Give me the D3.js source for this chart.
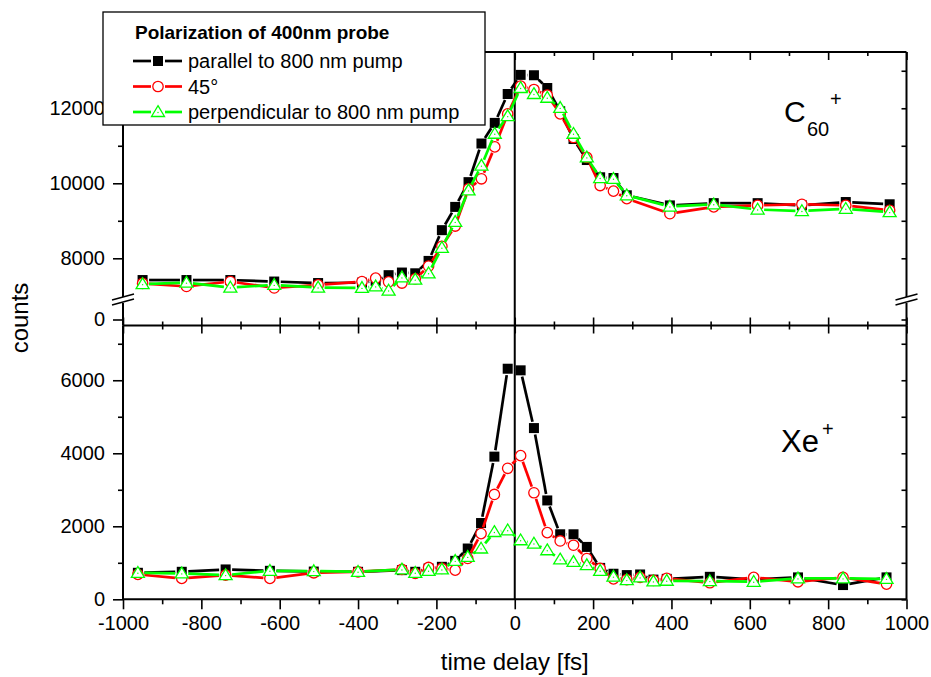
<!DOCTYPE html>
<html>
<head>
<meta charset="utf-8">
<script src="https://cdn.jsdelivr.net/npm/d3@7"></script>
<style>
body { margin: 0; background: #fff; }
svg text { font-family: Arial, "Liberation Sans", sans-serif; fill: #000; }
</style>
</head>
<body>
<div id="chart"></div>
<script>
// time axis (fs) of the two panels
var tC60 = [-950, -838, -726, -614, -502, -390, -355, -322, -288, -254, -220, -186, -152, -118, -85, -51,
            -18, 15, 49, 83, 116, 150, 184, 218, 252, 286, 396, 508, 620, 733, 845, 957];
var tXe = [-962, -850, -738, -625, -513, -400, -288, -254, -220, -186, -152, -120, -86, -52, -18, 15,
           49, 83, 116, 150, 184, 218, 252, 286, 320, 354, 388, 498, 610, 723, 838, 949];

// C60+ counts
var c60Parallel = [7420, 7420, 7420, 7380, 7340, 7350, 7400, 7550, 7620, 7600, 7930, 8750, 9370, 10030, 11060, 11610,
                   12380, 12890, 12880, 12540, 11920, 11180, 10620, 10160, 10140, 9680, 9410, 9470, 9470, 9410, 9500, 9440];
var c60Deg45 = [7330, 7250, 7380, 7210, 7290, 7380, 7470, 7370, 7340, 7450, 7790, 8320, 8860, 9850, 10120, 10970,
                11850, 12590, 12500, 12350, 11850, 11220, 10690, 9940, 9790, 9590, 9190, 9370, 9410, 9440, 9410, 9280];
var c60Perp = [7310, 7350, 7220, 7290, 7220, 7210, 7250, 7140, 7490, 7430, 7600, 8280, 8970, 9810, 10470, 11320,
               11790, 12540, 12380, 12280, 12010, 11320, 10690, 10140, 10120, 9680, 9380, 9440, 9300, 9260, 9320, 9230];

// Xe+ counts
var xeParallel = [726, 753, 818, 780, 760, 753, 799, 753, 845, 890, 1053, 1391, 2089, 3908, 6316, 6272,
                  4690, 2708, 1781, 1781, 1435, 860, 700, 663, 680, 540, 560, 616, 540, 600, 390, 600];
var xeDeg45 = [682, 573, 663, 573, 726, 753, 818, 709, 873, 845, 799, 1118, 1800, 2872, 3589, 3935,
               2918, 1827, 1598, 1481, 1118, 845, 560, 540, 600, 520, 573, 453, 600, 480, 600, 417];
var xePerp = [726, 709, 663, 780, 772, 753, 818, 726, 780, 818, 1053, 1162, 1391, 1844, 1890, 1617,
              1527, 1344, 1091, 1026, 935, 780, 620, 526, 600, 490, 508, 499, 480, 573, 573, 560];

var legendTitle = "Polarization of 400nm probe";
var seriesNames = ["parallel to 800 nm pump", "45\u00b0", "perpendicular to 800 nm pump"];
var seriesColors = ["#000000", "#ff0000", "#00ff00"];
var seriesShapes = ["square", "circle", "triangle"];

var xTicksMajor = [-1000, -800, -600, -400, -200, 0, 200, 400, 600, 800, 1000];
var xTicksMinor = [-900, -700, -500, -300, -100, 100, 300, 500, 700, 900];
var c60TicksMajor = [8000, 10000, 12000];
var c60TicksMinor = [9000, 11000, 13000];
var xeTicksMajor = [0, 2000, 4000, 6000];
var xeTicksMinor = [1000, 3000, 5000, 7000];

var width = 931;
var height = 677;
var pL = 123, pR = 906.5, pT = 52, pM = 325.5, pB = 599.3;

var svg = d3.select("#chart")
            .append("svg")
            .attr("width", width)
            .attr("height", height);

var x = d3.scaleLinear().domain([-1000, 1000]).range([pL, pR]);
var yC60 = d3.scaleLinear().domain([7000, 13500]).range([295.8, pT]);
var yC60Low = d3.scaleLinear().domain([0, 500]).range([319.5, 300.8]);
var yXe = d3.scaleLinear().domain([0, 7500]).range([pB, pM]);

var plain = function(d) { return String(d); };

function strip(g) {
	g.select(".domain").remove();
	g.selectAll("line").attr("stroke", "#000").attr("stroke-width", 1.6);
	g.selectAll("text").attr("font-family", "Arial, 'Liberation Sans', sans-serif").attr("font-size", 20).attr("fill", "#000");
	return g;
}

function addAxis(axis, tx, ty) {
	var g = svg.append("g").attr("transform", "translate(" + tx + "," + ty + ")").call(axis);
	return strip(g);
}

// ---- x axes ----
addAxis(d3.axisBottom(x).tickValues(xTicksMajor).tickSize(10).tickPadding(7).tickFormat(plain), 0, pB);
addAxis(d3.axisBottom(x).tickValues(xTicksMinor).tickSize(5).tickFormat(""), 0, pB);
// inner ticks on shared middle line and on top
addAxis(d3.axisBottom(x).tickValues(xTicksMajor).tickSize(8).tickFormat(""), 0, pM);
addAxis(d3.axisBottom(x).tickValues(xTicksMinor).tickSize(4).tickFormat(""), 0, pM);
addAxis(d3.axisTop(x).tickValues(xTicksMajor).tickSize(8).tickFormat(""), 0, pM);
addAxis(d3.axisTop(x).tickValues(xTicksMinor).tickSize(4).tickFormat(""), 0, pM);
addAxis(d3.axisBottom(x).tickValues(xTicksMajor).tickSize(8).tickFormat(""), 0, pT);
addAxis(d3.axisBottom(x).tickValues(xTicksMinor).tickSize(4).tickFormat(""), 0, pT);

// ---- y axes, lower panel ----
addAxis(d3.axisLeft(yXe).tickValues(xeTicksMajor).tickSize(10).tickPadding(8).tickFormat(plain), pL, 0);
addAxis(d3.axisLeft(yXe).tickValues(xeTicksMinor).tickSize(5).tickFormat(""), pL, 0);
addAxis(d3.axisLeft(yXe).tickValues(xeTicksMajor.concat(xeTicksMinor)).tickSize(5).tickFormat(""), pR, 0);

// ---- y axes, upper panel ----
addAxis(d3.axisLeft(yC60).tickValues(c60TicksMajor).tickSize(10).tickPadding(8).tickFormat(plain), pL, 0);
addAxis(d3.axisLeft(yC60).tickValues(c60TicksMinor).tickSize(5).tickFormat(""), pL, 0);
addAxis(d3.axisLeft(yC60Low).tickValues([0]).tickSize(10).tickPadding(8).tickFormat(plain), pL, 0);
addAxis(d3.axisLeft(yC60).tickValues(c60TicksMajor.concat(c60TicksMinor)).tickSize(5).tickFormat(""), pR, 0);
addAxis(d3.axisLeft(yC60Low).tickValues([0]).tickSize(5).tickFormat(""), pR, 0);

// ---- frame ----
var frame = svg.append("g").attr("stroke", "#000").attr("stroke-width", 2).attr("fill", "none");
frame.append("line").attr("x1", pL).attr("x2", pR).attr("y1", pT).attr("y2", pT);
frame.append("line").attr("x1", pL).attr("x2", pR).attr("y1", pM).attr("y2", pM);
frame.append("line").attr("x1", pL).attr("x2", pR).attr("y1", pB).attr("y2", pB);
frame.append("line").attr("x1", pL).attr("x2", pL).attr("y1", pM).attr("y2", pB);
frame.append("line").attr("x1", pR).attr("x2", pR).attr("y1", pM).attr("y2", pB);
// broken axes of the upper panel
[pL, pR].forEach(function(ax) {
	frame.append("line").attr("x1", ax).attr("x2", ax).attr("y1", pT).attr("y2", 297);
	frame.append("line").attr("x1", ax).attr("x2", ax).attr("y1", 303).attr("y2", pM);
	frame.append("line").attr("x1", ax - 11).attr("x2", ax + 11).attr("y1", 300).attr("y2", 294).attr("stroke-width", 1.4);
	frame.append("line").attr("x1", ax - 11).attr("x2", ax + 11).attr("y1", 305).attr("y2", 299).attr("stroke-width", 1.4);
});
// zero delay line
frame.append("line").attr("x1", x(0)).attr("x2", x(0)).attr("y1", pT).attr("y2", pB);

// ---- data ----
function marker(g, shape, color, px, py) {
	if (shape === "square") {
		g.append("rect").attr("x", px - 5).attr("y", py - 5).attr("width", 10).attr("height", 10)
		 .attr("fill", color);
	} else if (shape === "circle") {
		g.append("circle").attr("cx", px).attr("cy", py).attr("r", 5.2)
		 .attr("fill", "#fff").attr("stroke", color).attr("stroke-width", 1.3);
	} else {
		g.append("path").attr("d", "M" + px + "," + (py - 6.3) + "L" + (px + 6.5) + "," + (py + 4.5) + "L" + (px - 6.5) + "," + (py + 4.5) + "Z")
		 .attr("fill", "#fff").attr("stroke", color).attr("stroke-width", 1.3);
		g.append("circle").attr("cx", px).attr("cy", py + 0.5).attr("r", 0.7).attr("fill", color);
	}
}

function drawSeries(t, v, y, color, shape) {
	var g = svg.append("g");
	var pts = t.map(function(d, i) { return [x(d), y(v[i])]; });
	var gap = 6.5;
	for (var i = 0; i < pts.length - 1; i++) {
		var dx = pts[i + 1][0] - pts[i][0], dy = pts[i + 1][1] - pts[i][1];
		var len = Math.sqrt(dx * dx + dy * dy);
		if (len <= 2 * gap) continue;
		var ux = dx / len, uy = dy / len;
		g.append("line")
		 .attr("x1", pts[i][0] + ux * gap).attr("y1", pts[i][1] + uy * gap)
		 .attr("x2", pts[i + 1][0] - ux * gap).attr("y2", pts[i + 1][1] - uy * gap)
		 .attr("stroke", color).attr("stroke-width", 2.7);
	}
	pts.forEach(function(p) { marker(g, shape, color, p[0], p[1]); });
}

var c60Sets = [c60Parallel, c60Deg45, c60Perp];
var xeSets = [xeParallel, xeDeg45, xePerp];
for (var s = 0; s < 3; s++) {
	drawSeries(tC60, c60Sets[s], yC60, seriesColors[s], seriesShapes[s]);
	drawSeries(tXe, xeSets[s], yXe, seriesColors[s], seriesShapes[s]);
}

// ---- panel labels ----
var c60Label = svg.append("text").attr("x", 784).attr("y", 122).attr("font-size", 30);
c60Label.append("tspan").text("C");
c60Label.append("tspan").attr("x", 807).attr("y", 136).attr("font-size", 20).text("60");
c60Label.append("tspan").attr("x", 830).attr("y", 106).attr("font-size", 20).text("+");

var xeLabel = svg.append("text").attr("x", 781).attr("y", 452).attr("font-size", 31);
xeLabel.append("tspan").text("Xe");
xeLabel.append("tspan").attr("x", 822).attr("y", 436).attr("font-size", 20).text("+");

// ---- axis titles ----
svg.append("text").attr("x", x(0)).attr("y", 670).attr("text-anchor", "middle").attr("font-size", 24)
   .text("time delay [fs]");
svg.append("text").attr("transform", "translate(28,318) rotate(-90)").attr("text-anchor", "middle")
   .attr("font-size", 24).text("counts");

// ---- legend ----
var legend = svg.append("g");
legend.append("rect").attr("x", 103).attr("y", 12).attr("width", 382).attr("height", 113)
      .attr("fill", "#fff").attr("stroke", "#000").attr("stroke-width", 1.3);
legend.append("text").attr("x", 135).attr("y", 39).attr("font-size", 19).attr("font-weight", "bold")
      .text(legendTitle);
seriesNames.forEach(function(name, i) {
	var cy = 61 + i * 25.5;
	legend.append("line").attr("x1", 133).attr("x2", 151).attr("y1", cy).attr("y2", cy)
	      .attr("stroke", seriesColors[i]).attr("stroke-width", 2.7);
	legend.append("line").attr("x1", 165).attr("x2", 182).attr("y1", cy).attr("y2", cy)
	      .attr("stroke", seriesColors[i]).attr("stroke-width", 2.7);
	marker(legend, seriesShapes[i], seriesColors[i], 158, cy);
	legend.append("text").attr("x", 188).attr("y", cy + 7).attr("font-size", 20).text(name);
});
</script>
</body>
</html>
